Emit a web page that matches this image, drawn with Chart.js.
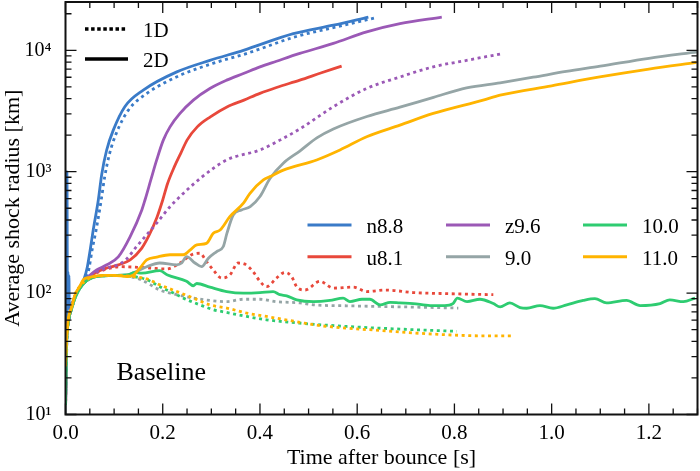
<!DOCTYPE html>
<html>
<head>
<meta charset="utf-8">
<script src="https://cdn.jsdelivr.net/npm/chart.js@4"></script>
<style>
html,body{margin:0;padding:0;background:#fff;}
canvas{display:block;}
</style>
</head>
<body>
<canvas id="c" width="700" height="471"></canvas>
<script>
// ---------- tick labels ----------
const xTickValues = [0, 0.2, 0.4, 0.6, 0.8, 1.0, 1.2];
const xTickLabels = ['0.0', '0.2', '0.4', '0.6', '0.8', '1.0', '1.2'];
const yTickValues = [10, 100, 1000, 10000];
const yTickLabels = ['10\u00B9', '10\u00B2', '10\u00B3', '10\u2074'];

// ---------- categories / legend ----------
const models = ['n8.8', 'u8.1', 'z9.6', '9.0', '10.0', '11.0'];
const dimLabels = ['1D', '2D'];

// ---------- series: time [s] and shock radius [km] ----------
// n8.8
const n88_2d_t = [0, 0.002, 0.003, 0.004, 0.005, 0.006, 0.007, 0.008, 0.010, 0.015, 0.02, 0.03, 0.038, 0.045, 0.051, 0.057, 0.0675, 0.0745, 0.0847, 0.0983, 0.122, 0.160, 0.229, 0.297, 0.366, 0.4686, 0.551, 0.623];
const n88_2d_r = [12, 45, 1000, 80, 150, 75, 140, 72, 78, 85, 95, 113, 130, 165, 230, 331, 585, 950, 1510, 2200, 3430, 4700, 6640, 8260, 10000, 13700, 16100, 18800];
const n88_1d_t = [0, 0.003, 0.008, 0.015, 0.02, 0.03, 0.04, 0.047, 0.055, 0.063, 0.0735, 0.0805, 0.0905, 0.104, 0.129, 0.167, 0.235, 0.303, 0.372, 0.475, 0.555, 0.637];
const n88_1d_r = [12, 40, 62, 80, 95, 113, 128, 150, 230, 331, 585, 900, 1400, 2050, 3200, 4400, 6200, 7800, 9400, 13000, 15500, 18500];
// u8.1
const u81_2d_t = [0, 0.002, 0.006, 0.012, 0.02, 0.03, 0.04, 0.05, 0.065, 0.085, 0.109, 0.133, 0.157, 0.172, 0.188, 0.2, 0.21, 0.224, 0.237, 0.25, 0.271, 0.298, 0.333, 0.367, 0.40, 0.434, 0.482, 0.525, 0.568];
const u81_2d_r = [10, 40, 60, 75, 95, 113, 128, 137, 150, 161, 171, 188, 235, 300, 420, 585, 800, 1100, 1415, 1820, 2340, 2830, 3430, 3890, 4420, 4940, 5680, 6500, 7410];
const u81_1d_t = [0, 0.002, 0.006, 0.012, 0.02, 0.03, 0.04, 0.05, 0.065, 0.085, 0.112, 0.137, 0.174, 0.208, 0.2355, 0.2595, 0.2766, 0.29, 0.304, 0.3213, 0.338, 0.355, 0.368, 0.386, 0.40, 0.4136, 0.434, 0.451, 0.465, 0.4755, 0.4926, 0.5234, 0.5508, 0.592, 0.6195, 0.66, 0.715, 0.784, 0.88];
const u81_1d_r = [10, 40, 60, 75, 95, 113, 128, 137, 148, 158, 165, 164, 161, 158, 177, 207, 213, 182, 155, 133, 141, 177, 174, 150, 125, 113, 133, 148, 137, 113, 106, 125, 110, 112, 103, 106, 101, 99, 97];
// z9.6
const z96_2d_t = [0, 0.002, 0.006, 0.012, 0.02, 0.03, 0.04, 0.05, 0.064, 0.085, 0.109, 0.133, 0.157, 0.1635, 0.1755, 0.1876, 0.2012, 0.215, 0.2355, 0.263, 0.297, 0.3315, 0.366, 0.40, 0.434, 0.482, 0.551, 0.6195, 0.688, 0.774];
const z96_2d_r = [10, 40, 60, 75, 95, 113, 128, 140, 155, 171, 200, 292, 484, 585, 855, 1250, 1820, 2340, 3020, 3890, 4850, 5680, 6440, 7310, 8130, 9420, 11400, 14200, 16600, 18800];
const z96_1d_t = [0, 0.002, 0.006, 0.012, 0.02, 0.03, 0.04, 0.05, 0.065, 0.085, 0.109, 0.125, 0.1464, 0.1876, 0.215, 0.2423, 0.28, 0.3315, 0.40, 0.441, 0.482, 0.551, 0.6195, 0.688, 0.7565, 0.825, 0.900];
const z96_1d_r = [10, 40, 60, 75, 95, 113, 128, 137, 150, 161, 172, 190, 242, 377, 515, 662, 900, 1250, 1510, 1820, 2250, 3430, 4850, 6030, 7310, 8260, 9420];
// 9.0
const m90_2d_t = [0, 0.002, 0.006, 0.012, 0.02, 0.03, 0.04, 0.05, 0.06, 0.08, 0.1, 0.126, 0.1464, 0.167, 0.194, 0.2287, 0.239, 0.249, 0.2664, 0.28, 0.294, 0.311, 0.3246, 0.332, 0.345, 0.362, 0.38, 0.40, 0.4206, 0.448, 0.482, 0.517, 0.551, 0.62, 0.688, 0.757, 0.825, 0.894, 0.962, 1.03, 1.10, 1.2, 1.3];
const m90_2d_r = [10, 35, 58, 73, 92, 110, 123, 131, 136, 139, 140, 141, 151, 165, 177, 171, 177, 200, 177, 165, 194, 220, 242, 310, 440, 484, 515, 624, 880, 1175, 1480, 1900, 2250, 2850, 3400, 4100, 4900, 5400, 6000, 6700, 7400, 8600, 9700];
const m90_1d_t = [0, 0.002, 0.006, 0.012, 0.02, 0.03, 0.04, 0.05, 0.06, 0.08, 0.1, 0.125, 0.1552, 0.194, 0.229, 0.263, 0.297, 0.3315, 0.366, 0.40, 0.434, 0.482, 0.51, 0.578, 0.647, 0.715, 0.808];
const m90_1d_r = [10, 35, 58, 73, 92, 110, 123, 131, 136, 139, 140, 138, 129, 106, 97, 91, 87, 85, 89, 89, 85, 83, 80, 78.6, 77.6, 76.7, 75.3];
// 10.0
const m100_2d_t = [0, 0.002, 0.006, 0.012, 0.02, 0.03, 0.04, 0.05, 0.06, 0.08, 0.1, 0.127, 0.143, 0.157, 0.194, 0.21, 0.249, 0.263, 0.27, 0.297, 0.3315, 0.366, 0.40, 0.427, 0.441, 0.455, 0.4755, 0.51, 0.544, 0.571, 0.585, 0.61, 0.626, 0.647, 0.668, 0.688, 0.715, 0.75, 0.78, 0.797, 0.806, 0.826, 0.8525, 0.88, 0.894, 0.914, 0.935, 0.9486, 0.976, 1.003, 1.031, 1.065, 1.089, 1.113, 1.154, 1.182, 1.223, 1.243, 1.271, 1.295];
const m100_2d_r = [12, 35, 58, 73, 92, 110, 123, 131, 136, 139, 140, 141, 148, 146, 153, 141, 125, 115, 120, 112, 103, 100, 101, 103, 97, 95, 88, 85, 87, 91, 85, 89, 89, 80, 84, 83, 82, 79, 79, 82, 91, 85, 89, 82, 77, 83, 76, 75, 79, 75, 80, 87, 90, 83, 87, 79, 82, 88, 85, 91];
const m100_1d_t = [0, 0.002, 0.006, 0.012, 0.02, 0.03, 0.04, 0.05, 0.06, 0.08, 0.1, 0.12, 0.1395, 0.167, 0.194, 0.222, 0.249, 0.2766, 0.304, 0.3315, 0.3727, 0.4136, 0.482, 0.578, 0.715, 0.805];
const m100_1d_r = [12, 35, 58, 73, 92, 110, 123, 131, 136, 139, 140, 139, 137, 129, 113, 100, 88.5, 80, 73, 69.3, 64.2, 60.3, 56.6, 53.1, 50, 48.4];
// 11.0
const m110_2d_t = [0, 0.002, 0.006, 0.012, 0.02, 0.03, 0.0366, 0.05, 0.06, 0.08, 0.1, 0.127, 0.14, 0.1532, 0.167, 0.1876, 0.215, 0.2423, 0.256, 0.27, 0.29, 0.304, 0.318, 0.338, 0.366, 0.3795, 0.407, 0.4206, 0.448, 0.5166, 0.5646, 0.6195, 0.688, 0.7565, 0.859, 0.894, 1.0, 1.099, 1.2, 1.298];
const m110_2d_r = [25, 40, 62, 75, 98, 115, 129, 135, 138, 140, 140, 137, 141, 161, 188, 198, 207, 207, 226, 250, 257, 311, 331, 426, 550, 664, 855, 911, 1030, 1250, 1510, 1940, 2420, 3020, 3890, 4270, 5100, 6030, 7000, 7940];
const m110_1d_t = [0, 0.002, 0.006, 0.012, 0.02, 0.03, 0.04, 0.05, 0.06, 0.08, 0.1, 0.12, 0.1395, 0.167, 0.194, 0.229, 0.263, 0.297, 0.3315, 0.3727, 0.4136, 0.482, 0.51, 0.578, 0.647, 0.715, 0.811, 0.85, 0.921];
const m110_1d_r = [25, 40, 62, 75, 98, 115, 125, 133, 137, 139, 140, 139, 137, 131, 117, 103, 91, 80, 75.3, 68.5, 64.2, 57.5, 54.9, 51.4, 49.3, 47, 44.9, 44.5, 44.5];

// ---------- styling ----------
const colors = {
  'n8.8': '#3a7bc8', 'u8.1': '#e8483b', 'z9.6': '#9b59b6',
  '9.0': '#95a5a6', '10.0': '#2ecc71', '11.0': '#ffb400'
};
const FONT = "'Liberation Serif', 'Times New Roman', serif";
const DOT = [3, 3.6];

function pts(ts, rs) { return ts.map((t, i) => ({ x: t, y: rs[i] })); }

const seriesList = [
  ['n8.8', '2D', n88_2d_t, n88_2d_r], ['n8.8', '1D', n88_1d_t, n88_1d_r],
  ['u8.1', '2D', u81_2d_t, u81_2d_r], ['u8.1', '1D', u81_1d_t, u81_1d_r],
  ['z9.6', '2D', z96_2d_t, z96_2d_r], ['z9.6', '1D', z96_1d_t, z96_1d_r],
  ['9.0', '2D', m90_2d_t, m90_2d_r], ['9.0', '1D', m90_1d_t, m90_1d_r],
  ['10.0', '2D', m100_2d_t, m100_2d_r], ['10.0', '1D', m100_1d_t, m100_1d_r],
  ['11.0', '2D', m110_2d_t, m110_2d_r], ['11.0', '1D', m110_1d_t, m110_1d_r]
];

const datasets = seriesList.slice().reverse().map(([m, d, t, r]) => ({
  label: m + ' ' + d,
  data: pts(t, r),
  borderColor: colors[m],
  backgroundColor: colors[m],
  borderWidth: 2.8,
  borderDash: d === '1D' ? DOT : [],
  borderCapStyle: 'butt',
  pointRadius: 0,
  fill: false,
  cubicInterpolationMode: 'monotone'
}));

const framePlugin = {
  id: 'frame',
  afterDraw(chart) {
    const ctx = chart.ctx, a = chart.chartArea;
    const xs = chart.scales.x, ys = chart.scales.y;
    ctx.save();
    ctx.strokeStyle = '#111';
    ctx.lineWidth = 1.3;
    for (let i = 0; i <= 26; i++) {
      const v = i * 0.05;
      const px = xs.getPixelForValue(v);
      const major = (i % 4 === 0);
      const L = major ? 11 : 6;
      ctx.beginPath();
      ctx.moveTo(px, a.bottom); ctx.lineTo(px, a.bottom - L);
      ctx.moveTo(px, a.top); ctx.lineTo(px, a.top + L);
      ctx.stroke();
    }
    for (let k = 1; k <= 4; k++) {
      for (let m = 1; m <= 9; m++) {
        const v = m * Math.pow(10, k);
        if (v > ys.max) break;
        const py = ys.getPixelForValue(v);
        const L = m === 1 ? 11 : 6;
        ctx.beginPath();
        ctx.moveTo(a.left, py); ctx.lineTo(a.left + L, py);
        ctx.moveTo(a.right, py); ctx.lineTo(a.right - L, py);
        ctx.stroke();
      }
    }
    ctx.lineWidth = 2;
    ctx.strokeRect(a.left, a.top, a.right - a.left, a.bottom - a.top);

    // legend: 1D / 2D
    ctx.strokeStyle = '#000';
    ctx.fillStyle = '#000';
    ctx.font = '21px ' + FONT;
    ctx.textBaseline = 'alphabetic';
    ctx.lineWidth = 3.5;
    ctx.setLineDash([3.5, 2.6]);
    ctx.beginPath(); ctx.moveTo(85, 29); ctx.lineTo(127, 29); ctx.stroke();
    ctx.setLineDash([]);
    ctx.beginPath(); ctx.moveTo(85, 59); ctx.lineTo(128, 59); ctx.stroke();
    ctx.fillText(dimLabels[0], 143, 36.5);
    ctx.fillText(dimLabels[1], 143, 66.5);

    // legend: models (3 columns x 2 rows, column-major)
    const colX = [307.5, 446, 583];
    const rowY = [225, 256.7];
    ctx.lineWidth = 3;
    models.forEach((m, i) => {
      const c = Math.floor(i / 2), r = i % 2;
      const x0 = colX[c], y0 = rowY[r];
      ctx.strokeStyle = colors[m];
      ctx.beginPath(); ctx.moveTo(x0, y0); ctx.lineTo(x0 + 44, y0); ctx.stroke();
      ctx.fillStyle = '#000';
      ctx.fillText(m, x0 + 59, y0 + 8);
    });

    ctx.font = '26px ' + FONT;
    ctx.fillText('Baseline', 116.5, 380);
    ctx.restore();
  }
};

new Chart(document.getElementById('c'), {
  type: 'line',
  data: { datasets },
  options: {
    responsive: false,
    animation: false,
    devicePixelRatio: 1,
    layout: { padding: { left: 0, top: 2, right: 2.5, bottom: 0 } },
    plugins: { legend: { display: false }, tooltip: { enabled: false } },
    scales: {
      x: {
        type: 'linear', min: 0, max: 1.3,
        grid: { display: false }, border: { display: false },
        afterBuildTicks: (s) => { s.ticks = xTickValues.map(v => ({ value: v })); },
        afterFit: (s) => { s.height = 56.5; s.paddingLeft = 0; s.paddingRight = 0; },
        ticks: {
          autoSkip: false, maxRotation: 0, padding: -2, color: '#000',
          font: { family: FONT, size: 21 },
          callback: (v) => { const i = xTickValues.findIndex(t => Math.abs(t - v) < 1e-9); return i >= 0 ? xTickLabels[i] : ''; }
        },
        title: { display: true, text: 'Time after bounce [s]', color: '#000', font: { family: FONT, size: 22 }, padding: 0 }
      },
      y: {
        type: 'logarithmic', min: 10, max: 25000,
        grid: { display: false }, border: { display: false },
        afterBuildTicks: (s) => { s.ticks = yTickValues.map(v => ({ value: v })); },
        afterFit: (s) => { s.width = 65.5; s.paddingTop = 0; s.paddingBottom = 0; },
        ticks: {
          autoSkip: false, padding: 6, color: '#000',
          font: { family: FONT, size: 20 },
          callback: (v) => { const i = yTickValues.findIndex(t => Math.abs(t - v) < 1e-6); return i >= 0 ? yTickLabels[i] : ''; }
        },
        title: { display: true, text: 'Average shock radius [km]', color: '#000', font: { family: FONT, size: 22 }, padding: 0 }
      }
    }
  },
  plugins: [framePlugin]
});
</script>
</body>
</html>
